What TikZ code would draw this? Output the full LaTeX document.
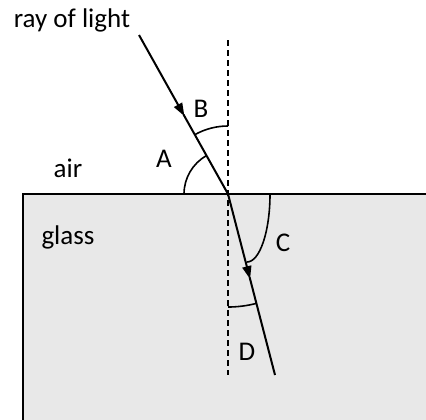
\documentclass[tikz,border=0pt]{standalone}
\usepackage{fontspec}
\setmainfont{Carlito}
\usetikzlibrary{calc, arrows.meta}

\begin{document}
\begin{tikzpicture}[x=0.5pt,y=0.5pt,
    ray/.style={line width=1pt},
    anglearc/.style={line width=0.8pt},
    normalline/.style={line width=0.65pt, dash pattern=on 3pt off 2pt},
    lbl/.style={anchor=base, inner sep=0pt, font=\fontsize{13.5}{16}\selectfont}]
            \useasboundingbox (0,0) rectangle (426,419);
            \clip (0,0) rectangle (426,419);
            % glass block
            \fill[black!9] (23,-5) rectangle (430,225);
            \draw[line width=1pt] (23,-5)--(23,225)--(430,225);
            % points
            \coordinate (O) at (228,225);
            \coordinate (S) at (139,384);
            \coordinate (E) at (275,44);
            \coordinate (N1) at (228,379);
            \coordinate (N2) at (228,44);
            % normal
            \draw[normalline] (N1)--(N2);
            % rays
            \draw[ray, -{Triangle[length=6.5pt,width=4.5pt]}] (S)--($(S)!0.51!(O)$);
            \draw[ray] ($(S)!0.5!(O)$)--(O);
            \draw[ray, -{Triangle[length=6.5pt,width=4.5pt]}] (O)--($(O)!0.47!(E)$);
            \draw[ray] ($(O)!0.46!(E)$)--(E);
            % angles
            \draw[anglearc] ($(O)+(180:44)$) arc[start angle=180, end angle=119.2, radius=44];
            \draw[anglearc] ($(O)+(90:68)$) arc[start angle=90, end angle=119.2, radius=68];
            \draw[anglearc] (270,225) arc[start angle=0, end angle=-90, x radius=23, y radius=68];
            \draw[anglearc] ($(O)+(-90:113)$) arc[start angle=-90, end angle=-75.4, radius=113];
            % labels
            \node[lbl] (raylbl) at (72,392) {ray of light};
            \node[lbl] (airlbl) at (68,242) {air};
            \node[lbl] (glasslbl) at (68,175) {glass};
            \node[lbl] (A) at (164,252) {A};
            \node[lbl] (B) at (201,302) {B};
            \node[lbl] (C) at (283,168) {C};
            \node[lbl] (D) at (247,59) {D};
        \end{tikzpicture}
\end{document}
